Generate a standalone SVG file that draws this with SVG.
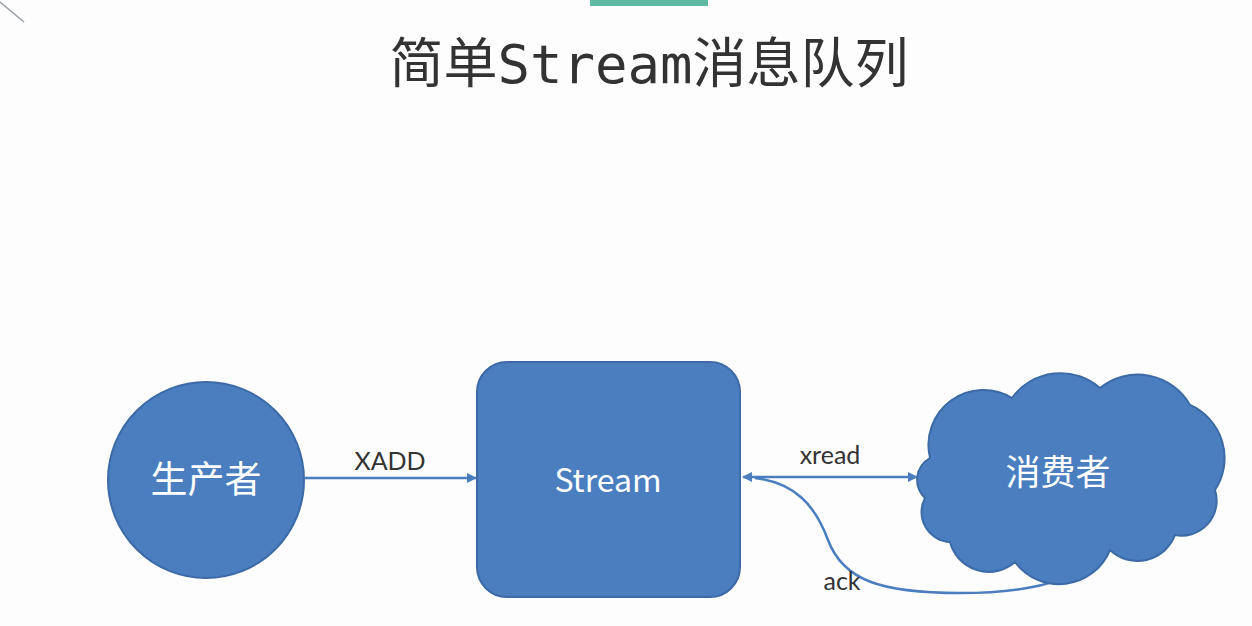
<svg xmlns="http://www.w3.org/2000/svg" width="1252" height="626" viewBox="0 0 1252 626">
  <style>
    .node { fill: #4a7ebf; stroke: #3c6aa6; stroke-width: 2; }
    .ntext { fill: #ffffff; font-family: "Noto Sans CJK SC", "Noto Sans", sans-serif; text-anchor: middle; }
    .label { fill: #333333; font-family: Lato, "Open Sans", "Liberation Sans", sans-serif; font-size: 25px; text-anchor: middle; }
    .conn { stroke: #4a7ebf; stroke-width: 2.5; fill: none; }
  </style>
  <defs>
    <marker id="arrow" viewBox="0 0 10 10" refX="9" refY="5" markerWidth="4" markerHeight="4" orient="auto-start-reverse" markerUnits="strokeWidth">
      <path d="M0,0 L10,5 L0,10 Z" fill="#4a7ebf"/>
    </marker>
  </defs>
  <rect x="0" y="0" width="1252" height="626" fill="#fdfdfd"/>
  <line x1="0" y1="2" x2="24" y2="22" stroke="#9aa0a6" stroke-width="1.5"/>
  <rect x="590" y="0" width="118" height="6" fill="#5fb9a2"/>

  <g id="title">
    <text x="649" y="83" font-size="54" fill="#333333" text-anchor="middle" font-family="'DejaVu Sans Mono', 'Noto Sans CJK SC', monospace">简单Stream消息队列</text>
  </g>

  <g id="connectors">
    <line class="conn" x1="305" y1="478" x2="476" y2="478" marker-end="url(#arrow)"/>
    <line class="conn" x1="743" y1="477" x2="917" y2="477" marker-start="url(#arrow)" marker-end="url(#arrow)"/>
    <path class="conn" d="M 755,478 C 795,483 815,505 828,540 C 843,580 880,593 960,593 C 1010,593 1050,586 1065,576"/>
    <text class="label" x="390" y="470">XADD</text>
    <text class="label" x="830" y="464">xread</text>
    <text class="label" x="842" y="590">ack</text>
  </g>

  <g id="producer">
    <circle class="node" cx="206" cy="480" r="98"/>
    <text class="ntext" x="206" y="493" font-size="37">生产者</text>
  </g>

  <g id="stream">
    <rect class="node" x="477" y="362" width="263" height="235" rx="30" ry="30"/>
    <text class="ntext" x="608" y="492" font-size="32" font-family="Lato, 'Open Sans', sans-serif">Stream</text>
  </g>

  <g id="consumer">
    <path class="node" d="M 930,458 A 55,55 0 0 1 1012,398 A 60,60 0 0 1 1100,388 A 60,60 0 0 1 1190,405 A 58,58 0 0 1 1215,490 A 35,35 0 0 1 1175,535 A 40,40 0 0 1 1110,550 A 55,55 0 0 1 1015,562 A 40,40 0 0 1 950,542 A 30,30 0 0 1 925,498 A 25,25 0 0 1 930,458 Z"/>
    <text class="ntext" x="1058" y="485" font-size="35">消费者</text>
  </g>
</svg>
